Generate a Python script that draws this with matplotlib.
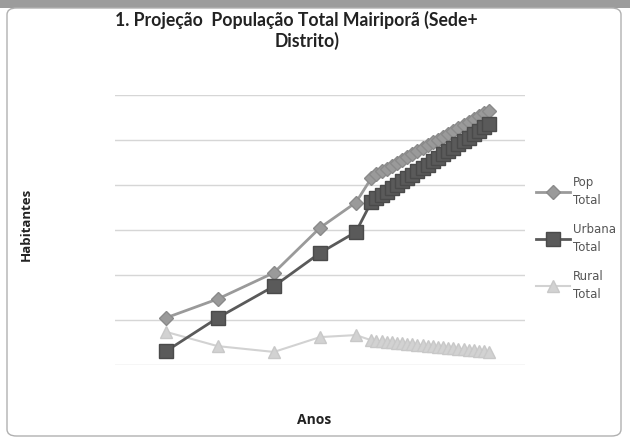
import matplotlib.pyplot as plt
from matplotlib.patches import FancyBboxPatch, Rectangle

# Anos (censos + projeção anual)
anos = [1970, 1980, 1991, 2000, 2007] + list(range(2010, 2034))

urbana = [6200, 20900, 35000, 49800, 59100,
          72400, 74000, 75500, 77000, 78500, 80000, 81600, 83100,
          84600, 86100, 87600, 89100, 90600, 92100, 93600, 95100,
          96600, 98100, 99600, 101100, 102600, 104100, 105600, 107100]

rural = [14700, 8400, 5800, 12400, 13300,
         11000, 10700, 10500, 10300, 10100, 9900, 9600, 9400,
         9200, 9000, 8800, 8500, 8300, 8100, 7900, 7700,
         7400, 7200, 7000, 6800, 6600, 6400, 6200, 6000]

pop_total = [21000, 29300, 41000, 61000, 72200,
             83000, 84700, 86000, 87300, 88600, 89900, 91200, 92500,
             93800, 95100, 96400, 97600, 98900, 100200, 101500, 102800,
             104000, 105300, 106600, 107900, 109200, 110500, 111800, 113100]

fig = plt.figure(figsize=(6.3, 4.44), dpi=100)
fig.patch.set_facecolor('white')

# moldura do gráfico escaneado
fig.patches.append(Rectangle((0, 1 - 8 / 444), 1, 8 / 444, transform=fig.transFigure,
                             facecolor='#9c9c9c', edgecolor='none', zorder=-5))
fig.patches.append(FancyBboxPatch((7 / 630, 8 / 444), 614 / 630, 428 / 444,
                                  boxstyle='round,pad=0,rounding_size=0.015',
                                  transform=fig.transFigure, facecolor='white',
                                  edgecolor='#b0b0b0', linewidth=1.0, zorder=-4))

ax = fig.add_axes([115 / 630, 1 - 365 / 444, 410 / 630, 270 / 444])
ax.set_facecolor('none')

ax.plot(anos, pop_total, color='#9a9a9a', marker='D', markersize=7.5, linewidth=2,
        markeredgecolor='#8a8a8a', label='Pop\nTotal', zorder=3)
ax.plot(anos, urbana, color='#5a5a5a', marker='s', markersize=10.5, linewidth=2,
        markeredgecolor='#4a4a4a', label='Urbana\nTotal', zorder=4)
ax.plot(anos, rural, color='#d2d2d2', marker='^', markersize=8.5, linewidth=1.5,
        markeredgecolor='#c8c8c8', label='Rural\nTotal', zorder=2)

ax.set_xlim(1960, 2040)
ax.set_ylim(0, 120000)
ax.set_yticks(range(0, 120001, 20000))
ax.grid(axis='y', color='#d6d6d6', linewidth=1)
ax.set_xticks([])
ax.tick_params(axis='y', length=0, labelleft=False)
for s in ax.spines.values():
    s.set_visible(False)

fig.text(296 / 630, 1 - 20 / 444, '1. Projeção  População Total Mairiporã (Sede+',
         ha='center', va='center', fontsize=12.7, fontweight='bold',
         family='Lato', color='#222222')
fig.text(307 / 630, 1 - 41 / 444, 'Distrito)', ha='center', va='center', fontsize=12.7,
         fontweight='bold', family='Lato', color='#222222')

fig.text(26 / 630, 1 - 224 / 444, 'Habitantes', rotation=90, ha='center', va='center',
         fontsize=9.5, fontweight='bold', family='Open Sans', color='#222222')
fig.text(314 / 630, 1 - 420 / 444, 'Anos', ha='center', va='center',
         fontsize=10, fontweight='bold', family='Open Sans', color='#222222')

leg = ax.legend(loc='center left', bbox_to_anchor=(1.0, 0.47), frameon=False,
                handlelength=2.9, handletextpad=0.25, labelspacing=1.35,
                prop={'family': 'DejaVu Sans', 'size': 8.5})
for t in leg.get_texts():
    t.set_color('#555555')
    t.set_linespacing(1.5)

fig.savefig('out.png', dpi=100)
